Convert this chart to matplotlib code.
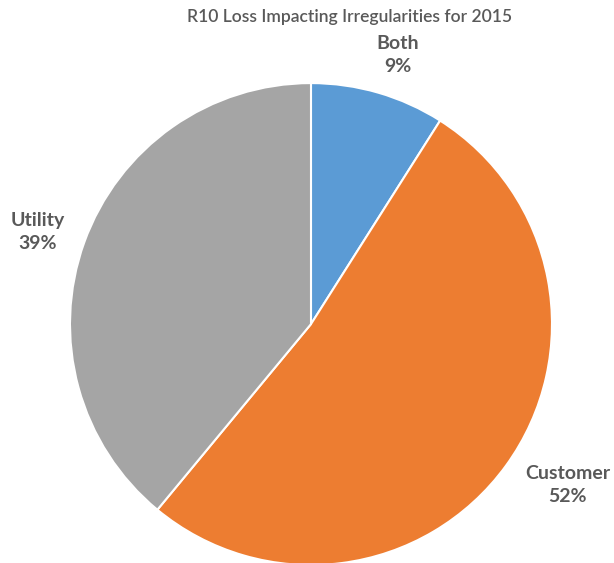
import matplotlib
matplotlib.use('Agg')
import matplotlib.pyplot as plt

# categories and shares (%)
categories = ['Both', 'Customer', 'Utility']
shares = [9, 52, 39]
colors = ['#5B9BD5', '#ED7D31', '#A5A5A5']

plt.rcParams['font.family'] = ['Lato', 'DejaVu Sans']
txt_color = '#595959'

fig = plt.figure(figsize=(6.14, 5.63), dpi=100)
ax = fig.add_axes([0.114, -0.0036, 0.785, 0.856])

wedges, _ = ax.pie(shares, colors=colors, startangle=90, counterclock=False,
                   radius=1, wedgeprops=dict(edgecolor='white', linewidth=1.5))
ax.set_xlim(-1, 1)
ax.set_ylim(-1, 1)
ax.set_aspect('equal', adjustable='datalim')

# label positions around the pie
label_pos = [(0.361, 1.116), (1.066, -0.668), (-1.133, 0.382)]
for cat, val, (x, y) in zip(categories, shares, label_pos):
    ax.text(x, y, f'{cat}\n{val}%', ha='center', va='center', fontsize=14,
            fontweight='bold', color=txt_color, linespacing=1.45, clip_on=False)

fig.text(0.570, 0.969, 'R10 Loss Impacting Irregularities for 2015', ha='center',
         va='center', fontsize=12.6, color=txt_color, fontweight='semibold')

fig.savefig('out.png', dpi=100)
